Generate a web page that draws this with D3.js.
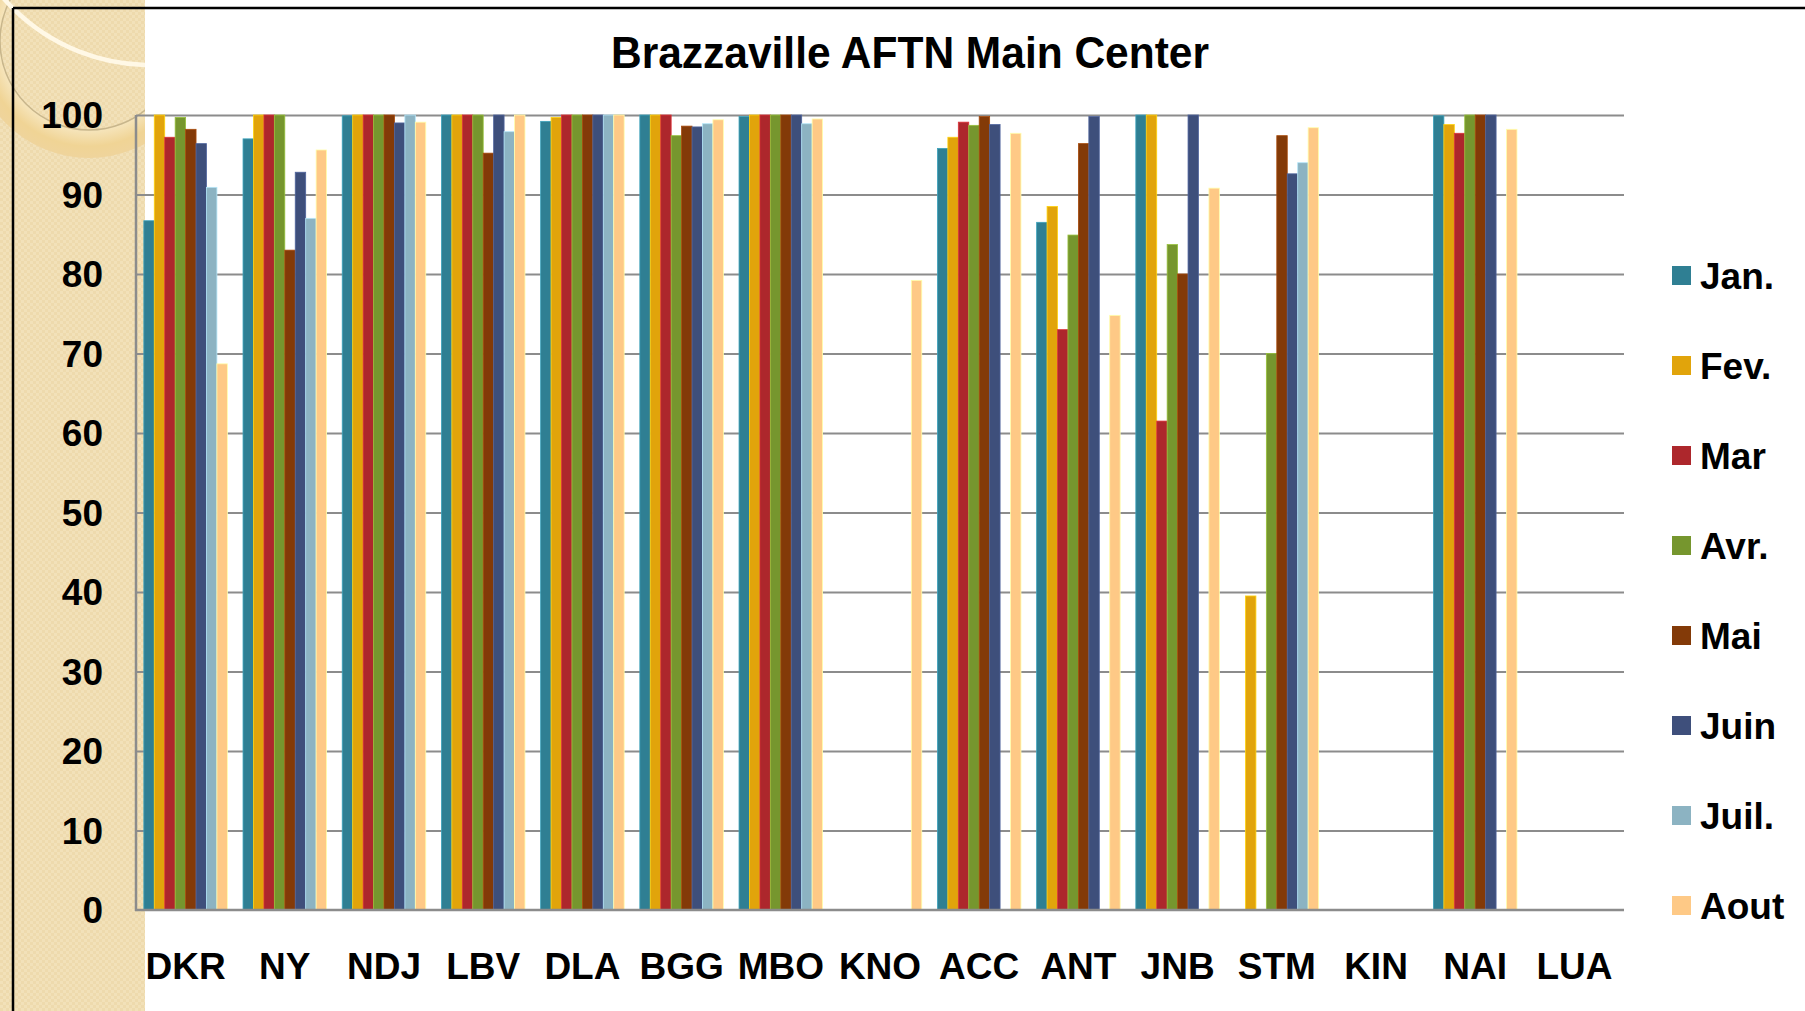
<!DOCTYPE html>
<html><head><meta charset="utf-8">
<script src="https://cdn.jsdelivr.net/npm/d3@7"></script>
<style>
html,body{margin:0;padding:0;background:#fff;overflow:hidden}
svg{display:block}
text{font-family:"Liberation Sans",Arial,Helvetica,sans-serif;font-weight:bold;fill:#000}
</style>
</head><body>
<svg id="c" width="1805" height="1011"></svg>
<script>
// ---------- data ----------
const title = "Brazzaville AFTN Main Center";
const categories = ["DKR","NY","NDJ","LBV","DLA","BGG","MBO","KNO","ACC","ANT","JNB","STM","KIN","NAI","LUA"];
const months = ["Jan.","Fev.","Mar","Avr.","Mai","Juin","Juil.","Aout"];
const colors = ["#2F7F93","#E1A40B","#AD272C","#76962E","#833A08","#3E4F7B","#8CB3C2","#FEC986"];
const jan  = [86.7, 97.0, 99.9, 100, 99.2, 100, 99.8, null, 95.8, 86.5, 100, null, null, 99.9, null];
const fev  = [100, 100, 100, 100, 99.7, 100, 100, null, 97.2, 88.5, 100, 39.5, null, 98.8, null];
const mar  = [97.2, 100, 100, 100, 100, 100, 100, null, 99.1, 73.0, 61.5, null, null, 97.7, null];
const avr  = [99.7, 100, 100, 100, 100, 97.4, 100, null, 98.7, 84.9, 83.7, 70.0, null, 100, null];
const mai  = [98.2, 83.0, 100, 95.2, 100, 98.6, 100, null, 99.8, 96.4, 80.0, 97.4, null, 100, null];
const juin = [96.4, 92.8, 99.0, 100, 100, 98.5, 100, null, 98.8, 99.8, 100, 92.6, null, 100, null];
const juil = [90.9, 87.0, 100, 97.9, 100, 98.9, 98.9, null, null, null, null, 94.0, null, null, null];
const aout = [68.7, 95.6, 99.1, 100, 100, 99.4, 99.5, 79.2, 97.7, 74.8, 90.8, 98.4, null, 98.2, null];
const series = [jan, fev, mar, avr, mai, juin, juil, aout];
const yTicks = [0,10,20,30,40,50,60,70,80,90,100];

// ---------- layout ----------
const W = 1805, H = 1011;
const plot = {left:136, right:1624, top:115, bottom:910};
const svg = d3.select("#c");
const defs = svg.append("defs");

// textured left strip
const pat = defs.append("pattern").attr("id","tex").attr("width",6).attr("height",6)
  .attr("patternUnits","userSpaceOnUse");
pat.append("rect").attr("width",6).attr("height",6).attr("fill","#F2E1B9");
pat.append("rect").attr("width",3).attr("height",3).attr("fill","#EEDAAD");
pat.append("rect").attr("x",3).attr("y",3).attr("width",3).attr("height",3).attr("fill","#EEDAAD");
defs.append("clipPath").attr("id","stripClip").append("rect")
  .attr("x",0).attr("y",0).attr("width",145).attr("height",H);
const rg = defs.append("radialGradient").attr("id","ringGrad")
  .attr("gradientUnits","userSpaceOnUse").attr("cx",89).attr("cy",41).attr("r",117);
rg.append("stop").attr("offset",0.76).attr("stop-color","#F6E5BC");
rg.append("stop").attr("offset",0.9).attr("stop-color","#F0D495");
rg.append("stop").attr("offset",1).attr("stop-color","#EFD49C");

svg.append("rect").attr("x",0).attr("y",0).attr("width",145).attr("height",H).attr("fill","url(#tex)");
const deco = svg.append("g").attr("clip-path","url(#stripClip)");
const ring = d3.path();
ring.arc(89,41,117,0,2*Math.PI); ring.moveTo(89+89,41); ring.arc(89,41,89,0,2*Math.PI);
deco.append("path").attr("d",ring.toString()).attr("fill","url(#ringGrad)").attr("fill-rule","evenodd");
deco.append("circle").attr("cx",89).attr("cy",41).attr("r",89).attr("fill","none")
  .attr("stroke","#C8B68C").attr("stroke-width",1.5);
deco.append("circle").attr("cx",150).attr("cy",-129).attr("r",194).attr("fill","none")
  .attr("stroke","#FFF8E6").attr("stroke-width",4.5);

// frame lines
svg.append("line").attr("x1",13).attr("x2",W).attr("y1",8).attr("y2",8).attr("stroke","#000").attr("stroke-width",2.5);
svg.append("line").attr("x1",13).attr("x2",13).attr("y1",8).attr("y2",H).attr("stroke","#000").attr("stroke-width",2.5);

// ---------- scales ----------
const y = d3.scaleLinear().domain([0,100]).range([plot.bottom, plot.top]);
const x0 = d3.scaleBand().domain(categories).range([plot.left, plot.right])
  .paddingInner(1.5/9.5).paddingOuter(0.75/9.5);
const x1 = d3.scaleBand().domain(months).range([0, x0.bandwidth()]);

// gridlines
const grid = svg.append("g").attr("transform",`translate(${plot.left},0)`)
  .call(d3.axisLeft(y).tickValues(yTicks.filter(t=>t>0)).tickSize(-(plot.right-plot.left)).tickFormat(""));
grid.select(".domain").remove();
grid.selectAll("line").attr("stroke","#8C8C8C").attr("stroke-width",2);

// bars
const barData = [];
categories.forEach((c,ci)=>months.forEach((m,mi)=>{
  const v = series[mi][ci];
  if (v != null) barData.push({c, m, v, col: colors[mi]});
}));
svg.append("g").selectAll("rect").data(barData).join("rect")
  .attr("x", d => x0(d.c) + x1(d.m))
  .attr("y", d => y(d.v))
  .attr("width", x1.bandwidth())
  .attr("height", d => y(0) - y(d.v))
  .attr("fill", d => d.col)
  .attr("stroke", d => d3.color(d.col).brighter(0.7))
  .attr("stroke-width", 0.8);

// axis lines
svg.append("line").attr("x1",plot.left).attr("x2",plot.left).attr("y1",plot.top).attr("y2",plot.bottom+1)
  .attr("stroke","#8C8C8C").attr("stroke-width",2.5);
svg.append("line").attr("x1",plot.left-1).attr("x2",plot.right).attr("y1",plot.bottom).attr("y2",plot.bottom)
  .attr("stroke","#8C8C8C").attr("stroke-width",2.5);

// y tick labels
const ya = svg.append("g").attr("transform",`translate(${plot.left},0)`)
  .call(d3.axisLeft(y).tickValues(yTicks).tickSize(0).tickPadding(33).tickFormat(d3.format("d")));
ya.select(".domain").remove();
ya.selectAll("text").attr("font-size",37).attr("dy","0.35em")
  .style("font-family",'"Liberation Sans",Arial,sans-serif').style("font-weight","bold").attr("fill","#000");

// x labels
const xa = svg.append("g").attr("transform",`translate(0,${plot.bottom})`)
  .call(d3.axisBottom(x0).tickSize(0));
xa.select(".domain").remove();
xa.selectAll("text").attr("font-size",37).attr("y",69).attr("dy",0)
  .style("font-family",'"Liberation Sans",Arial,sans-serif').style("font-weight","bold").attr("fill","#000");

// title
svg.append("text").attr("x",910).attr("y",68).attr("text-anchor","middle")
  .attr("font-size",44).attr("textLength",598).attr("lengthAdjust","spacingAndGlyphs").text(title);

// legend
const lg = svg.append("g").selectAll("g").data(months).join("g")
  .attr("transform",(d,i)=>`translate(1672,${266 + 90*i})`);
lg.append("rect").attr("width",19).attr("height",19).attr("fill",(d,i)=>colors[i]);
lg.append("text").attr("x",28).attr("y",23).attr("font-size",37).text(d=>d);
</script>
</body></html>
